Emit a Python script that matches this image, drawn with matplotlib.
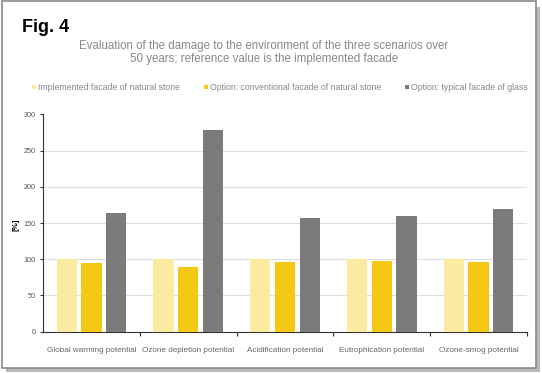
import numpy as np
import matplotlib.pyplot as plt
from matplotlib.patches import Rectangle

plt.rcParams["font.family"] = ["Liberation Sans", "DejaVu Sans"]

# data
categories = ["Global warming potential", "Ozone depletion potential",
              "Acidification potential", "Eutrophication potential",
              "Ozone-smog potential"]
implemented = [100, 100, 100, 100, 100]
conventional = [95, 89, 96, 97, 96]
glass = [164, 278, 157, 159, 169]
series_names = ["Implemented facade of natural stone",
                "Option: conventional facade of natural stone",
                "Option: typical facade of glass"]
colors = ["#FBEBA0", "#F5C814", "#7B7B7B"]

fig = plt.figure(figsize=(5.42, 3.73), dpi=100)

# frame with drop shadow
W, H = 542, 373
def fx(px):
    return px / W
def fy(py):
    return 1 - py / H
fig.patches.append(Rectangle((fx(6), fy(372)), fx(540) - fx(6), fy(7) - fy(372),
                             transform=fig.transFigure, facecolor="#b8b8b8",
                             edgecolor="none", zorder=0))
fig.patches.append(Rectangle((fx(2), fy(368)), fx(536) - fx(2), fy(1) - fy(368),
                             transform=fig.transFigure, facecolor="white",
                             edgecolor="#8a8a8a", linewidth=1.2, zorder=1))

ax = fig.add_axes([fx(43), fy(331.5), fx(527) - fx(43), fy(114.5) - fy(331.5)])
ax.set_zorder(2)

x = np.arange(len(categories))
width = 0.21
step = 0.255
for i, (vals, name, c) in enumerate(zip([implemented, conventional, glass], series_names, colors)):
    ax.bar(x + (i - 1) * step, vals, width, color=c, label=name, zorder=3)

ax.set_xlim(-0.5, len(categories) - 0.5)
ax.set_ylim(0, 300)
ax.set_yticks(range(0, 301, 50))
ax.yaxis.grid(True, color="#dcdcdc", linewidth=0.8, zorder=0)
ax.set_axisbelow(True)

ax.set_xticks(x)
ax.set_xticklabels(categories, fontsize=5.9, color="#666666")
ax.tick_params(axis="x", length=0, pad=11)
ax.set_xticks(np.arange(0.5, len(categories), 1), minor=True)
ax.tick_params(axis="x", which="minor", length=3, width=0.8, direction="out", color="#333333")
ax.tick_params(axis="y", labelsize=5.2, length=2.5, width=0.8, color="#333333",
               labelcolor="#555555", pad=3)

for s in ["top", "right"]:
    ax.spines[s].set_visible(False)
ax.spines["left"].set_color("#333333")
ax.spines["bottom"].set_color("#333333")
ax.spines["left"].set_linewidth(0.8)
ax.spines["bottom"].set_linewidth(0.8)

fig.text(fx(22), fy(28), "Fig. 4", fontsize=13, fontweight="bold", va="center", ha="left")
fig.text(fx(264), fy(52.5), "Evaluation of the damage to the environment of the three scenarios over\n"
         "50 years; reference value is the implemented facade",
         fontsize=8.3, color="#888888", ha="center", va="center", linespacing=1.1)
fig.text(fx(16), fy(225), "[%]", fontsize=5.8, fontweight="bold", rotation=90,
         ha="center", va="center")

leg = fig.legend(loc="center", bbox_to_anchor=(fx(280), fy(87.5)), ncol=3, frameon=False,
                 fontsize=6.3, handlelength=0.45, handleheight=0.45, handletextpad=0.25,
                 columnspacing=2.7)
for t in leg.get_texts():
    t.set_color("#888888")

fig.savefig("out.png", dpi=100)
